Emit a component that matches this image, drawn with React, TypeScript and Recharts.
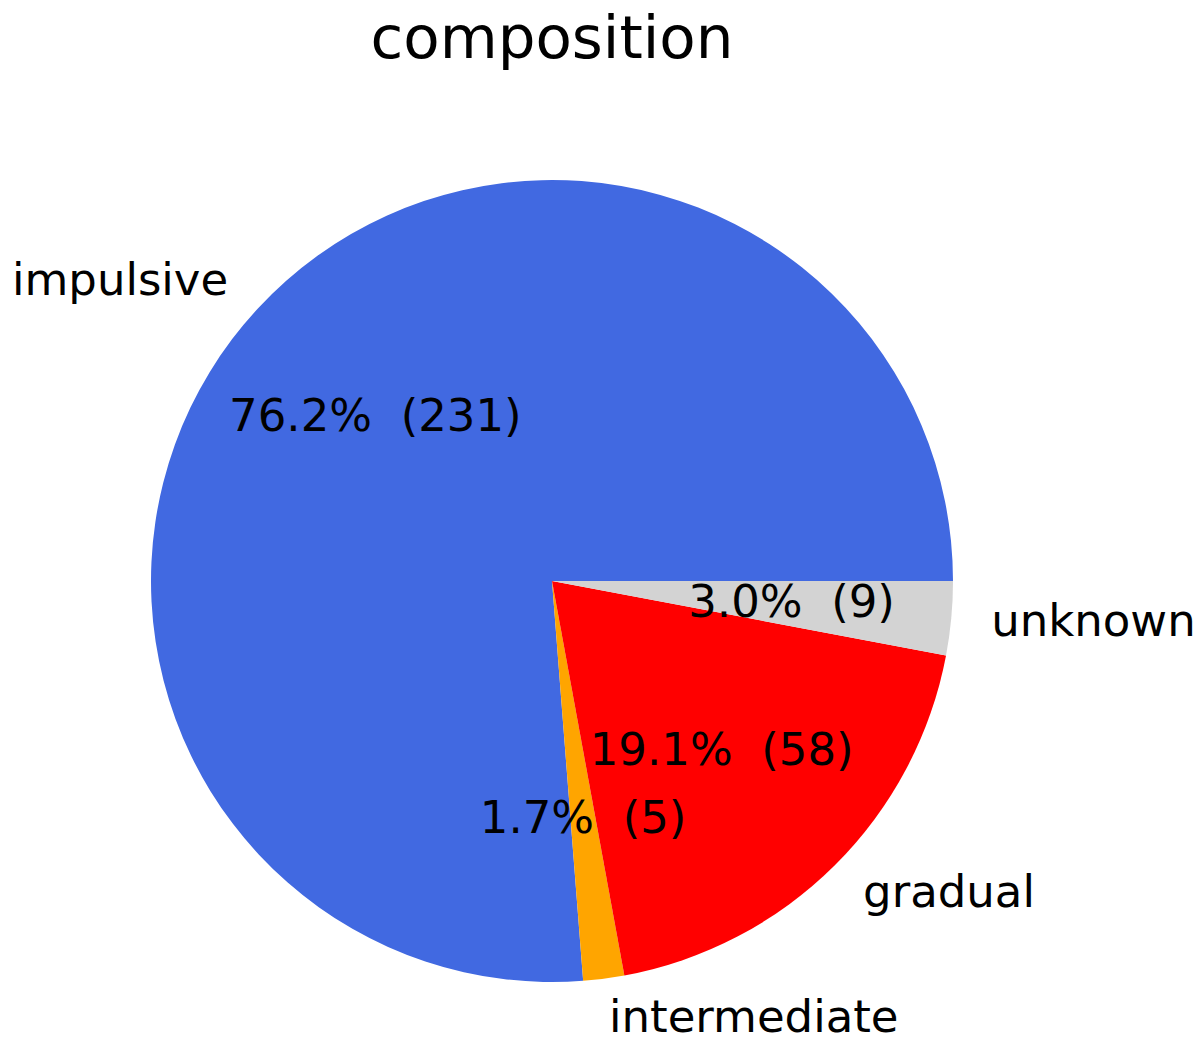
import { PieChart, Pie, Cell } from 'recharts'

const categories = ['impulsive', 'intermediate', 'gradual', 'unknown']
const counts = [231, 5, 58, 9]
const colors = ['#4169E1', '#FFA500', '#FF0000', '#D3D3D3']

const data = categories.map((name, i) => ({ name, value: counts[i] }))

const RAD = Math.PI / 180
const FS = 45
const FONT = '"DejaVu Sans", sans-serif'

function renderLabel({ cx, cy, midAngle, outerRadius, percent, value, name }: any) {
  const c = Math.cos(-midAngle * RAD)
  const s = Math.sin(-midAngle * RAD)
  // name label at 1.1r, pct label at 0.6r (matplotlib defaults)
  const nx = cx + outerRadius * 1.1 * c
  const ny = cy + outerRadius * 1.1 * s
  const px = cx + outerRadius * 0.6 * c
  const py = cy + outerRadius * 0.6 * s
  return (
    <g>
      <text x={nx} y={ny + FS * 0.3} textAnchor={c >= 0 ? 'start' : 'end'}
        fontSize={FS} fontFamily={FONT} fill="#000">
        {name}
      </text>
      <text x={px} y={py + FS * 0.3} textAnchor="middle" fontSize={FS}
        fontFamily={FONT} fill="#000" style={{ whiteSpace: 'pre' }}>
        {(percent * 100).toFixed(1) + '%  (' + value + ')'}
      </text>
    </g>
  )
}

export default function App() {
  return (
    <div style={{ position: 'absolute', left: 0, top: 0, width: 1200, height: 1041, background: '#fff' }}>
      <div style={{
        position: 'absolute', left: 0, width: 1104, top: 2, textAlign: 'center',
        fontFamily: FONT, fontSize: 59.5, lineHeight: '72px', color: '#000',
      }}>
        composition
      </div>
      <PieChart width={1200} height={1041} margin={{ top: 0, right: 0, bottom: 0, left: 0 }}
        style={{ position: 'absolute', left: 0, top: 0 }}>
        <Pie data={data} dataKey="value" nameKey="name" cx={552} cy={581} outerRadius={401}
          startAngle={0} endAngle={360} stroke="none" labelLine={false} label={renderLabel}
          isAnimationActive={false}>
          {data.map((d, i) => <Cell key={d.name} fill={colors[i]} />)}
        </Pie>
      </PieChart>
    </div>
  )
}
